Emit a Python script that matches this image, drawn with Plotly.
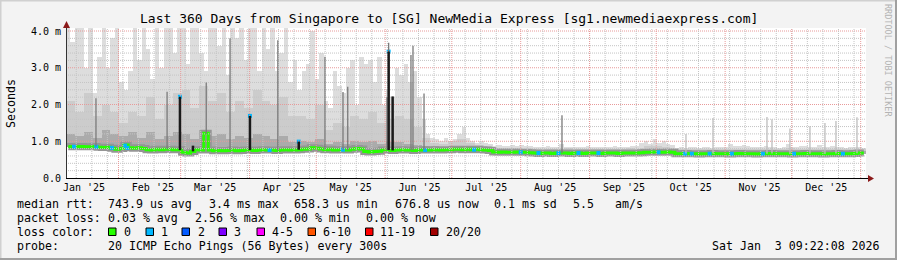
import numpy as np
import pandas as pd
import plotly.graph_objects as go

# ---------------- data ----------------
start_time = "2025-01-08 09:22:08"
end_time = "2026-01-03 09:22:08"

# median rtt (ms), 2-day bins from start_time
median_rtt_ms = [
    0.85, 0.86, 0.85, 0.86, 0.85, 0.85, 0.86,
    0.84, 0.83, 0.84,
    0.81, 0.78, 0.80, 0.90,
    0.82, 0.81, 0.82, 0.80,
    0.77, 0.76, 0.78, 0.77, 0.78, 0.78, 0.77,
    0.77,
    0.70, 0.68, 0.72,
    0.77, 0.76,
    1.22,
    0.76,
    0.74, 0.75, 0.74, 0.75, 0.76, 0.74, 0.75, 0.76,
    0.76, 0.75, 0.76, 0.77, 0.76, 0.76, 0.75, 0.76, 0.77, 0.76, 0.76, 0.77,
    0.78, 0.79, 0.82,
    0.81, 0.79,
    0.77, 0.78, 0.76, 0.77, 0.77, 0.76, 0.78,
    0.80, 0.79,
    0.72, 0.71, 0.72, 0.73,
    0.76, 0.76, 0.75, 0.76, 0.77, 0.76, 0.76, 0.75, 0.76, 0.77, 0.76, 0.76, 0.77, 0.76, 0.77,
    0.77, 0.78, 0.78, 0.77, 0.78, 0.77, 0.78, 0.77, 0.76,
    0.75,
    0.71, 0.70, 0.71, 0.70, 0.70, 0.71, 0.70, 0.70, 0.69,
    0.68, 0.67, 0.68, 0.68, 0.67, 0.68, 0.68, 0.68, 0.67, 0.68, 0.68, 0.67,
    0.68, 0.68, 0.68, 0.67, 0.68, 0.68, 0.68, 0.67, 0.68, 0.68, 0.68, 0.68,
    0.69, 0.70, 0.70, 0.71, 0.70, 0.70, 0.71, 0.70,
    0.66, 0.66, 0.67, 0.66, 0.66, 0.65, 0.66, 0.66, 0.67, 0.66,
    0.66, 0.66, 0.65, 0.66, 0.67, 0.66, 0.66, 0.66, 0.65, 0.66,
    0.66, 0.67, 0.66, 0.66, 0.66, 0.66, 0.65, 0.66, 0.66, 0.67,
    0.66, 0.66, 0.66, 0.65, 0.66, 0.66, 0.67, 0.66, 0.66, 0.66,
    0.67, 0.68, 0.68,
]

# outer (lightest) smoke top (ms), 2-day bins
smoke_light_top_ms = [
    4.1, 3.7, 4.1, 4.1, 3.0, 4.1, 2.3, 3.3, 4.1, 3.0, 3.8, 4.1,
    2.6, 2.4, 2.9, 4.1, 3.2, 4.1, 3.5, 2.7, 4.1, 3.0, 4.1, 4.1, 3.4, 4.1,
    4.1, 3.1, 4.1, 4.1, 3.4, 2.9, 4.1, 4.1, 3.6, 4.1, 2.8, 4.1, 3.8, 4.1,
    3.2, 4.1, 4.1, 2.9, 4.1, 3.5, 4.1, 2.9, 3.4, 4.1, 2.6, 3.2, 2.4, 2.9,
    3.1, 4.0, 2.7, 3.4, 2.1, 1.9, 2.9, 2.5, 2.3, 3.0, 3.2, 2.0, 3.3, 3.1,
    3.2, 2.6, 3.3, 2.0, 2.4, 2.2, 3.0, 2.8, 3.1, 2.6, 2.9, 2.2, 1.6, 1.2,
    1.1, 1.05, 1.0, 1.1, 1.0, 1.05, 1.2, 1.4, 1.1, 1.0, 0.95, 1.0, 0.95, 0.92,
    0.88, 0.90, 0.88, 0.87, 0.89, 0.88, 0.90, 0.87, 0.86,
    0.84, 0.85, 0.84, 0.86, 0.84, 0.85, 0.93, 0.85, 0.84, 0.85, 0.84, 0.85,
    0.86, 0.84, 0.85, 0.84, 0.85, 0.84, 0.86, 0.85, 0.84, 0.85, 0.88, 0.86,
    0.95, 1.0, 0.92, 1.05, 0.95, 1.0, 0.92, 0.90,
    0.82, 0.84, 0.83, 0.85, 0.84, 0.83, 0.84, 0.85, 0.83, 0.84,
    0.85, 0.84, 0.92, 0.86, 0.88, 0.90, 0.86, 0.84, 0.85, 0.84,
    0.86, 0.85, 0.84, 0.83, 0.84, 0.92, 0.85, 0.84, 0.86, 0.88,
    0.85, 0.84, 0.90, 0.85, 0.84, 0.86, 0.85, 0.84, 0.83, 0.84,
    0.85, 0.84, 0.83,
]

# middle smoke top (ms), 4-day bins
smoke_mid_top_ms = [
    2.1, 1.8, 2.3, 1.7, 2.0, 1.8,
    1.5, 1.8, 1.7, 2.2, 1.6, 2.0, 2.3,
    2.4, 1.9, 2.5, 2.1, 2.3, 1.8, 2.1,
    1.9, 2.4, 2.1, 2.0, 2.2, 1.7, 1.7,
    1.6, 2.0, 1.3, 1.5, 1.4, 1.7, 1.6,
    1.8, 1.5, 1.6, 1.7, 1.6, 1.4, 1.1,
    0.95, 0.92, 1.0, 1.05, 0.95, 0.9, 0.88,
    0.82, 0.81, 0.82, 0.80, 0.79,
    0.79, 0.80, 0.79, 0.81, 0.79, 0.80, 0.79, 0.80, 0.79, 0.80, 0.81, 0.80,
    0.86, 0.88, 0.85, 0.83,
    0.78, 0.79, 0.78, 0.80, 0.78, 0.79, 0.78, 0.80, 0.79, 0.78, 0.80,
    0.79, 0.81, 0.79, 0.78, 0.80, 0.79, 0.78, 0.79, 0.78, 0.79,
]

# inner (dark) smoke top (ms), 4-day bins
smoke_dark_top_ms = [
    1.2, 1.15, 1.25, 1.1, 1.3, 1.2,
    1.15, 1.25, 1.1, 1.25, 1.05, 1.15, 1.25,
    1.2, 1.05, 1.3, 1.15, 1.2, 1.05, 1.15,
    1.1, 1.2, 1.15, 1.05, 1.15, 0.98, 1.0,
    0.98, 1.05, 0.93, 0.97, 0.93, 1.0, 0.97,
    1.0, 0.93, 0.97, 0.97, 0.93, 0.9, 0.87,
    0.86, 0.85, 0.86, 0.87, 0.85, 0.84, 0.82,
    0.78, 0.77, 0.77, 0.76, 0.75,
    0.75, 0.75, 0.74, 0.75, 0.75, 0.74, 0.75, 0.75, 0.74, 0.75, 0.76, 0.75,
    0.78, 0.79, 0.78, 0.77,
    0.73, 0.72, 0.73, 0.73, 0.72, 0.73, 0.74, 0.73, 0.72, 0.73, 0.73,
    0.74, 0.73, 0.72, 0.73, 0.73, 0.72, 0.73, 0.74, 0.73, 0.73,
]

black_spike_dates = ["2025-02-28 16:00", "2025-04-01 04:00", "2025-06-02 14:00",
                     "2025-06-04 09:00", "2025-03-06 13:00", "2025-04-23 03:00"]
black_spike_tops = [2.21, 1.69, 3.44, 2.22, 0.88, 0.99]

gray_spike_dates = ["2025-01-21 21:00", "2025-02-22 21:00", "2025-03-12 12:00",
                    "2025-03-23 05:00", "2025-04-13 17:00", "2025-05-04 22:00",
                    "2025-05-13 01:00", "2025-05-15 04:00", "2025-06-01 20:00",
                    "2025-06-02 14:00", "2025-06-12 15:00", "2025-06-13 13:00",
                    "2025-06-18 12:00", "2025-08-19 14:00"]
gray_spike_tops = [2.17, 2.35, 2.6, 3.8, 3.75, 3.3, 2.34, 2.48, 2.2, 3.68, 3.35, 3.6, 2.3,
                   1.71]

light_spike_dates = ["2025-10-14 09:00", "2025-10-26 13:00", "2025-11-19 20:00",
                     "2025-11-22 02:00", "2025-11-30 04:00", "2025-12-09 04:00",
                     "2025-12-15 22:00", "2025-12-20 21:00", "2025-12-30 08:00"]
light_spike_tops = [1.2, 1.63, 1.66, 1.6, 1.35, 1.41, 1.5, 1.55, 1.65]

loss1_dates = ["2025-01-12 00:00", "2025-01-22 00:00", "2025-01-29 00:00", "2025-02-04 00:00",
               "2025-02-05 00:00", "2025-02-28 16:00", "2025-04-01 04:00", "2025-04-10 00:00",
               "2025-04-23 03:00", "2025-05-13 00:00", "2025-06-02 14:00", "2025-06-19 00:00",
               "2025-07-11 00:00", "2025-08-01 00:00", "2025-08-09 00:00", "2025-08-18 00:00",
               "2025-08-27 00:00", "2025-09-05 00:00", "2025-10-02 00:00", "2025-10-14 00:00",
               "2025-10-17 00:00", "2025-10-25 00:00", "2025-11-04 00:00", "2025-11-18 00:00",
               "2025-12-02 00:00", "2025-12-24 00:00"]
loss1_values = [0.85, 0.85, 0.82, 0.88, 0.82, 2.21, 1.69, 0.76, 0.99, 0.77, 3.44, 0.76,
                0.77, 0.70, 0.68, 0.68, 0.68, 0.68, 0.70, 0.66, 0.66, 0.66, 0.66, 0.66,
                0.66, 0.66]

month_labels = ["Jan '25", "Feb '25", "Mar '25", "Apr '25", "May '25", "Jun '25",
                "Jul '25", "Aug '25", "Sep '25", "Oct '25", "Nov '25", "Dec '25"]
month_label_dates = ["2025-%02d-16 12:00" % m for m in range(1, 13)]
y_tick_values = [0, 1, 2, 3, 4]
y_tick_labels = ["0.0", "1.0 m", "2.0 m", "3.0 m", "4.0 m"]

loss_legend_labels = ["0", "1", "2", "3", "4-5", "6-10", "11-19", "20/20"]
loss_legend_colors = ["#26ff00", "#00b8ff", "#0059ff", "#7e00ff", "#ff00ff",
                      "#ff5500", "#ff0000", "#a10000"]

title_text = "Last 360 Days from Singapore to [SG] NewMedia Express [sg1.newmediaexpress.com]"
legend_rtt_items = ["median rtt:", "743.9 us avg", "3.4 ms max", "658.3 us min",
                    "676.8 us now", "0.1 ms sd", "5.5", "am/s"]
legend_loss_items = ["packet loss:", "0.03 % avg", "2.56 % max", "0.00 % min", "0.00 % now"]
legend_color_title = "loss color:"
legend_probe_items = ["probe:", "20 ICMP Echo Pings (56 Bytes) every 300s"]
timestamp_text = "Sat Jan  3 09:22:08 2026"

assert len(median_rtt_ms) == 180, len(median_rtt_ms)
assert len(smoke_light_top_ms) == 180, len(smoke_light_top_ms)
assert len(smoke_mid_top_ms) == 90, len(smoke_mid_top_ms)
assert len(smoke_dark_top_ms) == 90, len(smoke_dark_top_ms)

# ---------------- geometry ----------------
W, H = 897, 260
L, R, T, B = 66, 31, 28, 82
PW, PH = W - L - R, H - T - B
YPX = 36.75
YMAX = PH / YPX
MONO = "DejaVu Sans Mono"
DAY_MS = 86400000


def pxx(x):
    return (x - L) / PW


def pxy(y):
    return (H - B - y) / PH


t0 = pd.Timestamp(start_time)
t1 = pd.Timestamp(end_time)
bins2 = t0 + pd.to_timedelta(np.arange(180) * 2 + 1, unit="D")
med = np.array(median_rtt_ms)
b2num = bins2.asi8.astype(float)
mid2 = np.repeat(np.array(smoke_mid_top_ms), 2)
dark2 = np.repeat(np.array(smoke_dark_top_ms), 2)

fig = go.Figure()


def smoke(top, color):
    top = np.array(top)
    fig.add_trace(go.Bar(x=bins2, y=np.maximum(top - med, 0), base=med, width=2 * DAY_MS,
                         marker=dict(color=color, line=dict(width=0)), hoverinfo="skip"))


smoke(smoke_light_top_ms, "#dddddd")
smoke(mid2, "#cccccc")
smoke(dark2, "#ababab")

fig.add_trace(go.Scatter(x=bins2, y=med, mode="lines",
                         line=dict(color="#959595", width=7, shape="hvh"), hoverinfo="skip"))
fig.add_trace(go.Scatter(x=bins2, y=med, mode="lines",
                         line=dict(color="#26ff00", width=3, shape="hvh"), hoverinfo="skip"))
fig.add_trace(go.Scatter(x=[pd.Timestamp(d) for d in loss1_dates], y=loss1_values,
                         mode="markers",
                         marker=dict(symbol="square", size=4, color="#00b8ff", line=dict(width=0)),
                         hoverinfo="skip"))

# ---------------- grid, axes, frame ----------------
shapes = []
DOT = "1px,1px"
for k in range(1, 21):
    v = k * 0.2
    col = "#e89a9a" if k % 5 == 0 else "#c4c4c4"
    shapes.append(dict(type="line", xref="paper", yref="y", x0=0, x1=1, y0=v, y1=v,
                       line=dict(color=col, width=1, dash=DOT), layer="above"))
for d in pd.date_range("2025-01-13", end_time, freq="7D"):
    shapes.append(dict(type="line", xref="x", yref="paper", x0=d, x1=d, y0=0, y1=1,
                       line=dict(color="#c4c4c4", width=1, dash=DOT), layer="above"))
for d in pd.date_range("2025-02-01", end_time, freq="MS"):
    shapes.append(dict(type="line", xref="x", yref="paper", x0=d, x1=d, y0=0, y1=1,
                       line=dict(color="#e89a9a", width=1, dash=DOT), layer="above"))


# spikes drawn over the grid, positioned through the data axes
def spikes(dates, tops, color, width):
    for d, tp in zip(dates, tops):
        ts = pd.Timestamp(d)
        base = float(np.interp(float(ts.value), b2num, med))
        shapes.append(dict(type="line", xref="x", yref="y", x0=ts, x1=ts, y0=base, y1=tp,
                           line=dict(color=color, width=width), layer="above"))


spikes(light_spike_dates, light_spike_tops, "#bdbdbd", 1.3)
spikes(gray_spike_dates, gray_spike_tops, "#7a7a7a", 1.3)
spikes(black_spike_dates, black_spike_tops, "#1a1a1a", 2.5)


def pline(xa, ya, xb, yb, color, width=1):
    shapes.append(dict(type="line", xref="paper", yref="paper", x0=pxx(xa), y0=pxy(ya),
                       x1=pxx(xb), y1=pxy(yb), line=dict(color=color, width=width), layer="above"))


def prect(xa, ya, xb, yb, fill, line_color=None):
    shapes.append(dict(type="rect", xref="paper", yref="paper", x0=pxx(xa), y0=pxy(ya),
                       x1=pxx(xb), y1=pxy(yb), fillcolor=fill,
                       line=dict(color=line_color or fill, width=1 if line_color else 0),
                       layer="above"))


def ppath(points, fill):
    p = "M " + " L ".join("%f,%f" % (pxx(a), pxy(b)) for a, b in points) + " Z"
    shapes.append(dict(type="path", xref="paper", yref="paper", path=p, fillcolor=fill,
                       line=dict(width=0), layer="above"))


pline(66, 178.5, 869, 178.5, "#000000")
ppath([(868, 175), (874, 178.5), (868, 182)], "#8b1a1a")
pline(66.5, 178, 66.5, 27, "#333333")
ppath([(63, 28), (66.5, 21), (70, 28)], "#8b1a1a")

# frame
prect(0, 0, 897, 1.5, "#d0d0d0")
prect(0, 0, 1.5, 260, "#d0d0d0")
prect(895, 0, 897, 260, "#a0a0a0")
prect(0, 258, 897, 260, "#a0a0a0")

# loss legend boxes
loss_box_x = [108.5, 146, 182, 219, 257, 308, 365.5, 430.5]
loss_label_x = [122.5, 159.5, 196.5, 233, 271, 321.5, 378.5, 445]
for bx, col in zip(loss_box_x, loss_legend_colors):
    prect(bx, 228, bx + 7.5, 235.5, col, "#000000")

# ---------------- text ----------------
ann = []


def text(x, y, s, size=11.6, anchor="left", color="#000000", angle=0):
    ann.append(dict(xref="paper", yref="paper", x=pxx(x), y=pxy(y), text=s, showarrow=False,
                    xanchor=anchor, yanchor="middle", textangle=angle, borderpad=0,
                    font=dict(family=MONO, size=size, color=color)))


text(448.5, 18, title_text, size=13, anchor="center")
text(11, 103, "Seconds", size=11.6, anchor="center", angle=-90)
text(888, 60, "RRDTOOL / TOBI OETIKER", size=8.5, anchor="center", color="#b4b4b4", angle=90)

rtt_x = [16, 106.5, 208, 293, 393.5, 493, 572, 613.5]
for x, s in zip(rtt_x, legend_rtt_items):
    text(x, 204, s)
loss_x = [16, 107.3, 193.6, 279, 365.3]
for x, s in zip(loss_x, legend_loss_items):
    text(x, 218, s)
text(16, 232, legend_color_title)
for x, s in zip(loss_label_x, loss_legend_labels):
    text(x, 232, s)
text(16, 246, legend_probe_items[0])
text(107, 246, legend_probe_items[1])
text(881, 246, timestamp_text, anchor="right")

fig.update_layout(
    width=W, height=H,
    margin=dict(l=L, r=R, t=T, b=B, pad=0),
    paper_bgcolor="#f3f3f3", plot_bgcolor="#ffffff",
    showlegend=False, barmode="overlay", bargap=0,
    shapes=shapes, annotations=ann,
    xaxis=dict(type="date", range=[t0, t1], showgrid=False, zeroline=False, showline=False,
               tickmode="array", tickvals=month_label_dates, ticktext=month_labels, ticks="",
               ticklabelstandoff=2,
               tickfont=dict(family=MONO, size=10, color="#000000"), fixedrange=True),
    yaxis=dict(range=[0, YMAX], showgrid=False, zeroline=False, showline=False,
               tickmode="array", tickvals=y_tick_values, ticktext=y_tick_labels, ticks="",
               ticklabelstandoff=4,
               tickfont=dict(family=MONO, size=10, color="#000000"), fixedrange=True),
)

fig.write_html("out.html")
